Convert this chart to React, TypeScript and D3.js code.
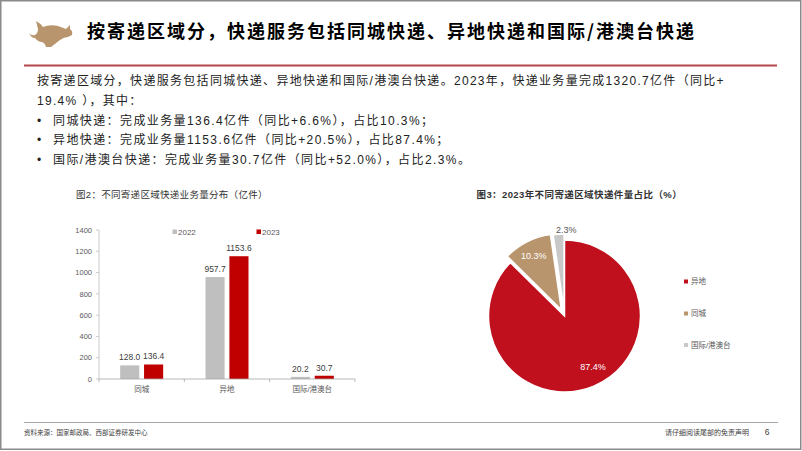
import React from "react";
import * as d3 from "d3";

const pageTitle = "按寄递区域分，快递服务包括同城快递、异地快递和国际/港澳台快递";
const introLines = [
  "按寄递区域分，快递服务包括同城快递、异地快递和国际/港澳台快递。2023年，快递业务量完成1320.7亿件（同比+",
  "19.4% ），其中：",
];
const bulletLines = [
  "同城快递：完成业务量136.4亿件（同比+6.6%），占比10.3%；",
  "异地快递：完成业务量1153.6亿件（同比+20.5%），占比87.4%；",
  "国际/港澳台快递：完成业务量30.7亿件（同比+52.0%），占比2.3%。",
];

const barTitle = "图2：不同寄递区域快递业务量分布（亿件）";
const categories = ["同城", "异地", "国际/港澳台"];
const seriesNames = ["2022", "2023"];
const values2022 = [128.0, 957.7, 20.2];
const values2023 = [136.4, 1153.6, 30.7];
const yTicks = [0, 200, 400, 600, 800, 1000, 1200, 1400];

const pieTitle = "图3：2023年不同寄递区域快递件量占比（%）";
const pieNames = ["异地", "同城", "国际/港澳台"];
const pieValues = [87.4, 10.3, 2.3];
const pieLabelText = ["87.4%", "10.3%", "2.3%"];

const sourceText = "资料来源：国家邮政局、西部证券研发中心";
const disclaimerText = "请仔细阅读尾部的免责声明";
const pageNumber = "6";

const FONT = "'Liberation Sans', Arial, 'Noto Sans CJK SC', sans-serif";
const barColors = ["#BFBFBF", "#C00000"];
const pieColors = ["#C0101E", "#B8956C", "#C8C8C8"];
const pieExplode = [0, 7, 6];

export default function App() {
  const x = d3.scaleBand<string>().domain(categories).range([99, 355]);
  const xInner = d3.scaleBand<string>().domain(seriesNames).range([-21.5, 21.5]).paddingInner(0.2);
  const y = d3.scaleLinear().domain([0, 1400]).range([379, 230]);
  const seriesValues = [values2022, values2023];

  const cx = 564.5, cy = 316, r = 76;
  const pie = d3.pie<number>().sort(null).startAngle(0).endAngle(2 * Math.PI)(pieValues);
  const arc = d3.arc<d3.PieArcDatum<number>>().innerRadius(0).outerRadius(r);

  const bounds = [99, ...categories.map((c) => (x(c) as number) + x.bandwidth())];

  return (
    <svg width={802} height={451} style={{ position: "absolute", left: 0, top: 0, background: "#fff" }} fontFamily={FONT}>
      <rect x={0.75} y={0.75} width={800} height={448.5} fill="#fff" stroke="#8a8a8a" strokeWidth={1.5} />

      <path
        d="M29 33 Q31 36 35 35 Q38 33 38 29 L36 21 Q40 23 43 27 Q50 24 58 26 L66 29 L70 25 L70 29 Q73 31 72 35 L68 37 Q64 37 60 40 Q55 44 51 47 L46 47 Q45 43 42 42 Q38 42 35 38 Q31 38 29 33 Z"
        fill="#B8956C"
      />
      <text x={87} y={38} fontSize={18} fontWeight={700} letterSpacing={2} fill="#000" fontFamily="'Noto Sans CJK SC', sans-serif">
        {pageTitle}
      </text>
      <line x1={24} x2={777} y1={65.5} y2={65.5} stroke="#B5484C" strokeWidth={2} />

      {introLines.map((t, i) => (
        <text key={t} x={37} y={84.5 + i * 20.5} fontSize={12} letterSpacing={1.3} fill="#222">
          {t}
        </text>
      ))}
      {bulletLines.map((t, i) => (
        <g key={t}>
          <text x={37} y={124.5 + i * 19.5} fontSize={12} fill="#222">•</text>
          <text x={53} y={124.5 + i * 19.5} fontSize={12} letterSpacing={1.4} fill="#222">
            {t}
          </text>
        </g>
      ))}

      <text x={76} y={197.5} fontSize={9.5} letterSpacing={0.3} fill="#333">
        {barTitle}
      </text>
      <line x1={99} x2={99} y1={230} y2={379} stroke="#BFBFBF" strokeWidth={0.8} />
      {yTicks.map((t) => (
        <g key={t}>
          <line x1={96} x2={99} y1={y(t)} y2={y(t)} stroke="#BFBFBF" strokeWidth={0.8} />
          <text x={92} y={y(t) + 2.7} fontSize={7.5} textAnchor="end" fill="#595959">
            {t}
          </text>
        </g>
      ))}
      {seriesNames.map((s, si) =>
        categories.map((c, ci) => {
          const v = seriesValues[si][ci];
          const bx = (x(c) as number) + x.bandwidth() / 2 + (xInner(s) as number);
          return (
            <g key={s + c}>
              <rect x={bx} y={y(v)} width={xInner.bandwidth()} height={y(0) - y(v)} fill={barColors[si]} />
              <text x={bx + xInner.bandwidth() / 2} y={y(v) - 5} fontSize={8.5} textAnchor="middle" fill="#404040">
                {v.toFixed(1)}
              </text>
            </g>
          );
        })
      )}
      <line x1={99} x2={355} y1={379} y2={379} stroke="#A6A6A6" strokeWidth={0.8} />
      {bounds.map((b) => (
        <line key={b} x1={b} x2={b} y1={379} y2={382} stroke="#A6A6A6" strokeWidth={0.8} />
      ))}
      {categories.map((c) => (
        <text key={c} x={(x(c) as number) + x.bandwidth() / 2} y={392} fontSize={7.5} textAnchor="middle" fill="#595959">
          {c}
        </text>
      ))}
      {seriesNames.map((s, i) => {
        const lx = [172.5, 256.5][i];
        return (
          <g key={s}>
            <rect x={lx} y={229.5} width={4.5} height={4.5} fill={barColors[i]} />
            <text x={lx + 5.5} y={234.8} fontSize={8} fill="#595959">
              {s}
            </text>
          </g>
        );
      })}

      <text x={476.5} y={197.5} fontSize={9.5} fontWeight={700} letterSpacing={0.4} fill="#333">
        {pieTitle}
      </text>
      {pie.map((d, i) => {
        const mid = (d.startAngle + d.endAngle) / 2;
        const ox = Math.sin(mid) * pieExplode[i];
        const oy = -Math.cos(mid) * pieExplode[i];
        return (
          <path
            key={pieNames[i]}
            d={arc(d) as string}
            transform={`translate(${cx + ox},${cy + oy})`}
            fill={pieColors[i]}
            stroke="#fff"
            strokeWidth={1.5}
          />
        );
      })}
      {pie.map((d, i) => {
        const mid = (d.startAngle + d.endAngle) / 2;
        const lr = [58, 68, 86][i];
        const adj = [-0.12, 0, 0][i];
        const dx = [0, 0, 8][i];
        const lx = cx + Math.sin(mid + adj) * lr + dx;
        const ly = cy - Math.cos(mid + adj) * lr;
        return (
          <text key={pieLabelText[i]} x={lx} y={ly + 3.2} fontSize={9} textAnchor="middle" fill={i === 2 ? "#595959" : "#fff"}>
            {pieLabelText[i]}
          </text>
        );
      })}
      {pieNames.map((n, i) => {
        const ly = [281.5, 313.5, 345][i];
        return (
          <g key={n}>
            <rect x={684} y={ly - 2} width={4} height={4} fill={pieColors[i]} />
            <text x={691} y={ly + 2.8} fontSize={7.5} fill="#595959">
              {n}
            </text>
          </g>
        );
      })}

      <line x1={24} x2={778} y1={422.5} y2={422.5} stroke="#A6A6A6" strokeWidth={1} />
      <text x={24} y={434.5} fontSize={6.5} fill="#404040">
        {sourceText}
      </text>
      <text x={749} y={434.5} fontSize={7} textAnchor="end" fill="#404040">
        {disclaimerText}
      </text>
      <text x={767} y={435} fontSize={8.5} textAnchor="middle" fill="#404040">
        {pageNumber}
      </text>
    </svg>
  );
}
